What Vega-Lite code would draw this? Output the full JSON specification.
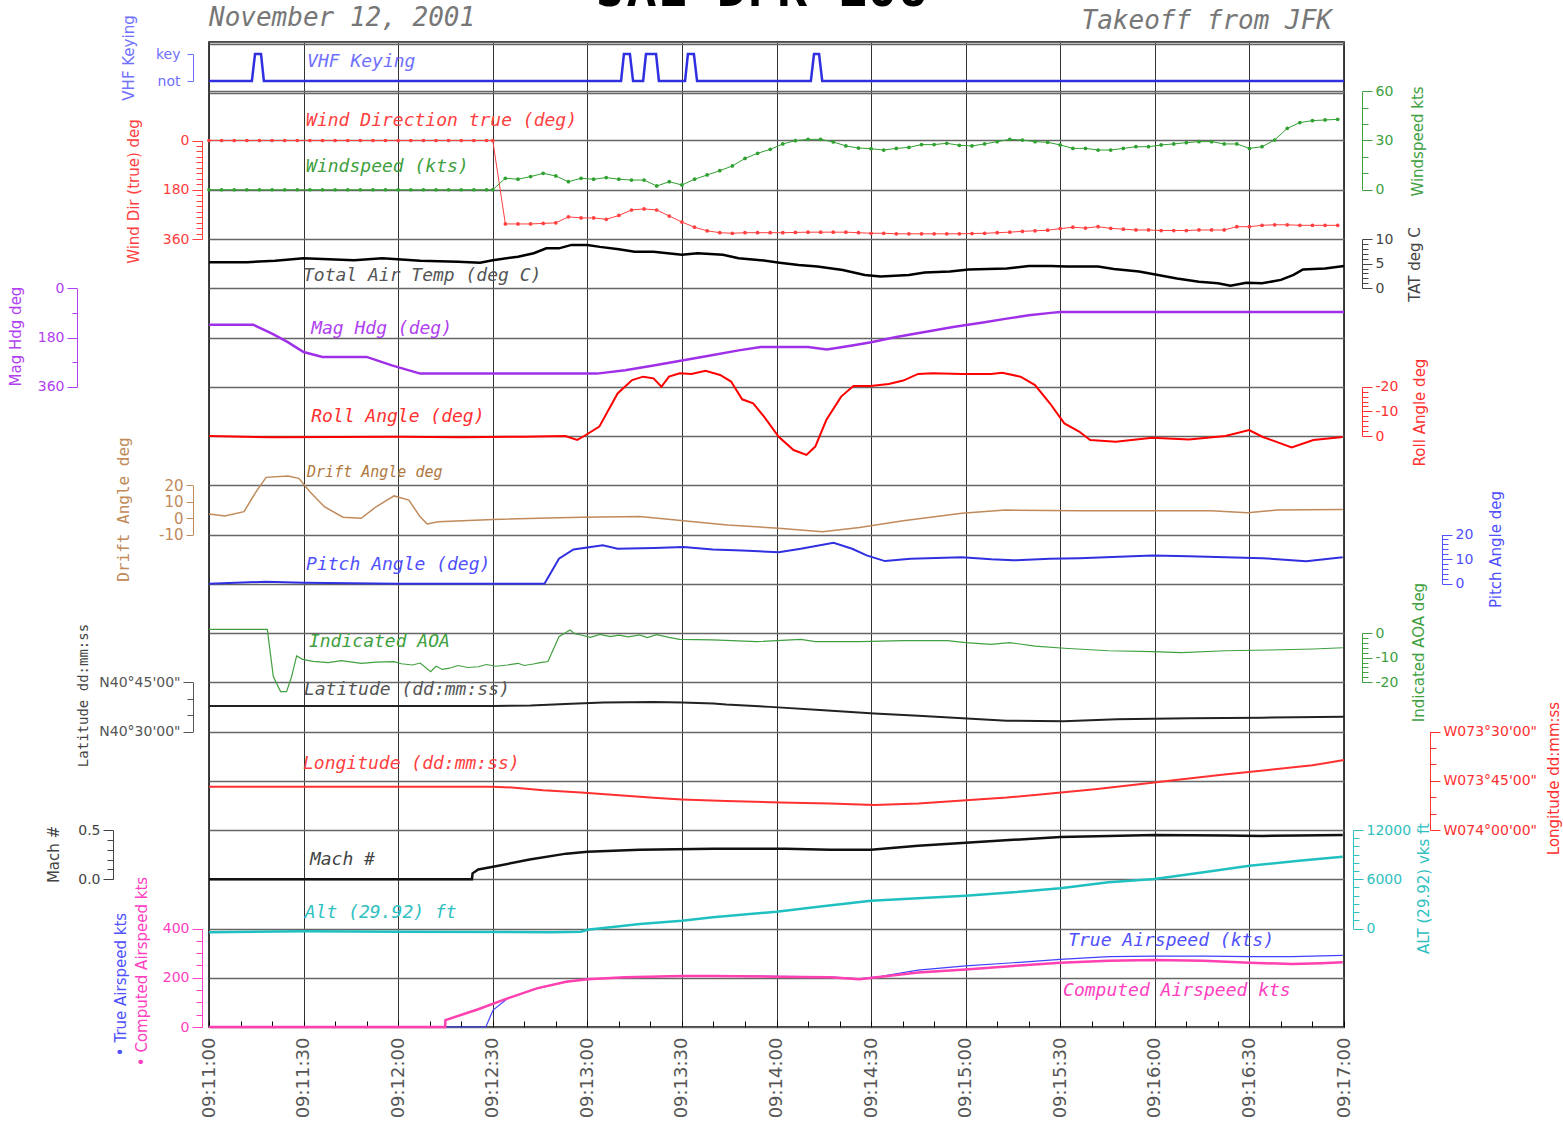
{
"$schema": "https://vega.github.io/schema/vega-lite/v6.json",
"width": 1135, "height": 985,
"autosize": {"type": "none"},
"padding": {"left": 209, "top": 42, "right": 219, "bottom": 100},
"background": "white",
"config": {
  "view": {"stroke": "#000", "strokeWidth": 1.5},
  "axis": {"labelFont": "DejaVu Sans", "titleFont": "DejaVu Sans", "labelFontSize": 14, "titleFontSize": 15, "titleFontWeight": "normal",
    "labelOverlap": false, "labelFlush": false, "labelBound": false, "grid": false, "titleAngle": 270, "titleAlign": "center",
    "titleBaseline": "middle", "labelPadding": 3, "tickWidth": 1, "domainWidth": 1}
},
"datasets": {
  "labels": [
    {"t": 31.1, "r": 19.59, "label": "VHF Keying", "s": "vhf"},
    {"t": 30.8, "r": 18.40, "label": "Wind Direction true (deg)", "s": "wd"},
    {"t": 30.8, "r": 17.46, "label": "Windspeed (kts)", "s": "ws"},
    {"t": 29.8, "r": 15.25, "label": "Total Air Temp (deg C)", "s": "tat"},
    {"t": 32.4, "r": 14.17, "label": "Mag Hdg (deg)", "s": "mag"},
    {"t": 32.4, "r": 12.39, "label": "Roll Angle (deg)", "s": "roll"},
    {"t": 31.1, "r": 11.27, "label": "Drift Angle deg", "s": "drift"},
    {"t": 30.8, "r": 9.38, "label": "Pitch Angle (deg)", "s": "pitch"},
    {"t": 31.7, "r": 7.82, "label": "Indicated AOA", "s": "aoa"},
    {"t": 30.1, "r": 6.84, "label": "Latitude (dd:mm:ss)", "s": "lat"},
    {"t": 29.8, "r": 5.34, "label": "Longitude (dd:mm:ss)", "s": "lon"},
    {"t": 32.0, "r": 3.39, "label": "Mach #", "s": "mach"},
    {"t": 30.4, "r": 2.31, "label": "Alt (29.92) ft", "s": "alt"},
    {"t": 272.5, "r": 1.75, "label": "True Airspeed (kts)", "s": "tas"},
    {"t": 270.9, "r": 0.73, "label": "Computed Airspeed kts", "s": "cas"}
  ],
  "vhf": [{"t":0,"v":0},{"t":13.6,"v":0},{"t":14.6,"v":1},{"t":16.5,"v":1},{"t":17.4,"v":0},{"t":130.7,"v":0},{"t":131.6,"v":1},{"t":133.5,"v":1},{"t":134.5,"v":0},{"t":137.7,"v":0},{"t":138.6,"v":1},{"t":141.8,"v":1},{"t":142.7,"v":0},{"t":151,"v":0},{"t":151.9,"v":1},{"t":153.8,"v":1},{"t":154.8,"v":0},{"t":190.9,"v":0},{"t":191.9,"v":1},{"t":193.5,"v":1},{"t":194.5,"v":0},{"t":360,"v":0}],
  "wind": [
    {"t":0,"wd":0,"ws":0},{"t":4,"wd":0,"ws":0},{"t":8,"wd":0,"ws":0},{"t":12,"wd":0,"ws":0},{"t":16,"wd":0,"ws":0},{"t":20,"wd":0,"ws":0},{"t":24,"wd":0,"ws":0},{"t":28,"wd":0,"ws":0},{"t":32,"wd":0,"ws":0},{"t":36,"wd":0,"ws":0},{"t":40,"wd":0,"ws":0},{"t":44,"wd":0,"ws":0},{"t":48,"wd":0,"ws":0},{"t":52,"wd":0,"ws":0},{"t":56,"wd":0,"ws":0},{"t":60,"wd":0,"ws":0},{"t":64,"wd":0,"ws":0},{"t":68,"wd":0,"ws":0},{"t":72,"wd":0,"ws":0},{"t":76,"wd":0,"ws":0},{"t":80,"wd":0,"ws":0},{"t":84,"wd":0,"ws":0},{"t":88,"wd":0,"ws":0},{"t":90,"wd":0,"ws":0},
    {"t":94,"wd":305,"ws":7.0},{"t":98,"wd":305,"ws":6.4},{"t":102,"wd":305,"ws":8.0},{"t":106,"wd":303,"ws":10.0},{"t":110,"wd":301,"ws":8.4},{"t":114,"wd":279,"ws":4.9},{"t":118,"wd":283,"ws":7.0},{"t":122,"wd":283,"ws":6.4},{"t":126,"wd":288,"ws":7.4},{"t":130,"wd":274,"ws":6.4},{"t":134,"wd":254,"ws":5.9},{"t":138,"wd":250,"ws":5.9},{"t":142,"wd":254,"ws":2.3},{"t":146,"wd":276,"ws":4.9},{"t":150,"wd":298,"ws":2.9},{"t":154,"wd":317,"ws":6.4},{"t":158,"wd":330,"ws":9.0},{"t":162,"wd":337,"ws":11.6},{"t":166,"wd":339,"ws":14.5},{"t":170,"wd":337,"ws":19.1},{"t":174,"wd":337,"ws":22.2},{"t":178,"wd":337,"ws":24.6},
    {"t":182,"wd":337,"ws":27.9},{"t":186,"wd":336,"ws":29.9},{"t":190,"wd":335,"ws":30.7},{"t":194,"wd":335,"ws":30.7},{"t":198,"wd":335,"ws":29.1},{"t":202,"wd":335,"ws":26.7},{"t":206,"wd":337,"ws":25.4},{"t":210,"wd":339,"ws":25.0},{"t":214,"wd":339,"ws":24.2},{"t":218,"wd":341,"ws":25.2},{"t":222,"wd":341,"ws":25.8},{"t":226,"wd":341,"ws":27.5},{"t":230,"wd":341,"ws":27.5},{"t":234,"wd":341,"ws":28.3},{"t":238,"wd":341,"ws":27.1},{"t":242,"wd":340,"ws":26.7},{"t":246,"wd":339,"ws":27.9},{"t":250,"wd":337,"ws":29.3},{"t":254,"wd":335,"ws":30.7},{"t":258,"wd":332,"ws":30.3},{"t":262,"wd":330,"ws":29.3},{"t":266,"wd":328,"ws":28.9},{"t":270,"wd":322,"ws":27.3},{"t":274,"wd":317,"ws":25.2},{"t":278,"wd":320,"ws":25.2},{"t":282,"wd":315,"ws":24.2},{"t":286,"wd":321,"ws":24.2},{"t":290,"wd":324,"ws":25.2},{"t":294,"wd":327,"ws":26.2},{"t":298,"wd":327,"ws":26.2},{"t":302,"wd":329,"ws":27.3},{"t":306,"wd":329,"ws":27.9},{"t":310,"wd":329,"ws":28.7},{"t":314,"wd":327,"ws":29.3},{"t":318,"wd":327,"ws":29.3},{"t":322,"wd":327,"ws":27.9},{"t":326,"wd":315,"ws":27.9},{"t":330,"wd":315,"ws":25.2},{"t":334,"wd":310,"ws":26.2},{"t":338,"wd":308,"ws":30.3},{"t":342,"wd":308,"ws":37.4},{"t":346,"wd":310,"ws":40.9},{"t":350,"wd":310,"ws":42.1},{"t":354,"wd":310,"ws":42.5},{"t":358,"wd":310,"ws":42.9}
  ],
  "tat": [{"t":0,"v":5.3},{"t":12,"v":5.3},{"t":21,"v":5.6},{"t":30,"v":6.1},{"t":46,"v":5.7},{"t":55,"v":6.1},{"t":67,"v":5.6},{"t":79,"v":5.4},{"t":86,"v":5.2},{"t":90,"v":5.7},{"t":98,"v":6.4},{"t":103,"v":7.1},{"t":107,"v":8.1},{"t":111,"v":8.1},{"t":115,"v":8.8},{"t":120,"v":8.8},{"t":124,"v":8.4},{"t":130,"v":7.9},{"t":135,"v":7.4},{"t":141,"v":7.4},{"t":150,"v":6.8},{"t":155,"v":7.1},{"t":163,"v":6.8},{"t":168,"v":6.1},{"t":175,"v":5.7},{"t":181,"v":5.2},{"t":187,"v":4.7},{"t":193,"v":4.4},{"t":201,"v":3.7},{"t":208,"v":2.7},{"t":213,"v":2.4},{"t":222,"v":2.7},{"t":227,"v":3.2},{"t":235,"v":3.4},{"t":241,"v":3.8},{"t":253,"v":4.0},{"t":260,"v":4.5},{"t":267,"v":4.5},{"t":272,"v":4.4},{"t":282,"v":4.4},{"t":287,"v":3.9},{"t":295,"v":3.4},{"t":301,"v":2.7},{"t":307,"v":2.0},{"t":314,"v":1.3},{"t":320,"v":1.0},{"t":324,"v":0.5},{"t":329,"v":1.1},{"t":334,"v":1.0},{"t":340,"v":1.7},{"t":344,"v":2.7},{"t":347,"v":3.8},{"t":354,"v":4.0},{"t":360,"v":4.5}],
  "mag": [{"t":0,"v":133},{"t":14,"v":133},{"t":20,"v":166},{"t":25,"v":197},{"t":30,"v":233},{"t":36,"v":251},{"t":50,"v":251},{"t":58,"v":282},{"t":67,"v":312},{"t":123,"v":312},{"t":132,"v":300},{"t":141,"v":282},{"t":150,"v":264},{"t":159,"v":246},{"t":168,"v":227},{"t":175,"v":215},{"t":182,"v":215},{"t":190,"v":215},{"t":196,"v":224},{"t":204,"v":209},{"t":210,"v":197},{"t":218,"v":178},{"t":227,"v":160},{"t":236,"v":142},{"t":246,"v":124},{"t":253,"v":111},{"t":260,"v":99},{"t":267,"v":90},{"t":270,"v":87},{"t":360,"v":87}],
  "roll": [{"t":0,"v":0},{"t":20,"v":0.5},{"t":40,"v":0.4},{"t":60,"v":0.3},{"t":80,"v":0.5},{"t":100,"v":0.3},{"t":113,"v":0},{"t":116.8,"v":1.6},{"t":119,"v":0},{"t":123.8,"v":-3.8},{"t":129.6,"v":-17.3},{"t":134.2,"v":-22.7},{"t":137.7,"v":-24.1},{"t":141,"v":-23.4},{"t":143.5,"v":-20},{"t":145.9,"v":-24.1},{"t":149.3,"v":-25.5},{"t":153,"v":-25.2},{"t":157.5,"v":-26.5},{"t":162.1,"v":-24.8},{"t":165.6,"v":-22.1},{"t":169.1,"v":-14.9},{"t":172.6,"v":-13.3},{"t":176.1,"v":-7.8},{"t":180.7,"v":0.3},{"t":185.4,"v":5.7},{"t":189.5,"v":7.7},{"t":192.3,"v":4.3},{"t":195.8,"v":-6.5},{"t":200.5,"v":-16},{"t":204.4,"v":-20.3},{"t":209.8,"v":-20.3},{"t":215.6,"v":-21.1},{"t":220.2,"v":-22.5},{"t":224.9,"v":-25.2},{"t":229.5,"v":-25.5},{"t":238.8,"v":-25.2},{"t":248.1,"v":-25.2},{"t":251.6,"v":-25.7},{"t":257.4,"v":-24.1},{"t":262,"v":-20.7},{"t":266.7,"v":-13.3},{"t":271.3,"v":-5.1},{"t":276,"v":-1.8},{"t":279.5,"v":1.6},{"t":287.6,"v":2.3},{"t":299.2,"v":0.7},{"t":310.8,"v":1.4},{"t":322.4,"v":0},{"t":329.9,"v":-2.4},{"t":334.1,"v":0.3},{"t":343.4,"v":4.6},{"t":350.3,"v":1.6},{"t":359.6,"v":0.4}],
  "drift": [{"t":0,"v":2.5},{"t":5,"v":1.3},{"t":11.1,"v":3.9},{"t":14.6,"v":15.1},{"t":18.1,"v":24.8},{"t":25,"v":25.6},{"t":28.5,"v":24.2},{"t":32,"v":16.1},{"t":36.6,"v":6.9},{"t":42.5,"v":0.5},{"t":48.3,"v":-0.1},{"t":53,"v":6.9},{"t":58.7,"v":13.5},{"t":63.4,"v":11},{"t":66.9,"v":0.9},{"t":69.2,"v":-3.6},{"t":72.7,"v":-2.2},{"t":90.1,"v":-0.8},{"t":118,"v":0.5},{"t":136.6,"v":0.9},{"t":150.5,"v":-1.6},{"t":164.4,"v":-4.2},{"t":180.7,"v":-6.2},{"t":194.6,"v":-8.3},{"t":206.3,"v":-5.8},{"t":220.2,"v":-1.6},{"t":238.8,"v":2.9},{"t":252.7,"v":4.9},{"t":276,"v":4.5},{"t":299.2,"v":4.5},{"t":317.8,"v":4.5},{"t":329.4,"v":3.3},{"t":338.7,"v":4.9},{"t":359.6,"v":5.3}],
  "pitch": [{"t":0,"v":0},{"t":18,"v":0.8},{"t":30,"v":0.4},{"t":60,"v":0},{"t":90,"v":0},{"t":106.4,"v":0},{"t":111,"v":10.2},{"t":115.6,"v":13.9},{"t":124.9,"v":15.6},{"t":129.6,"v":14.2},{"t":141.2,"v":14.5},{"t":150.5,"v":14.9},{"t":159.8,"v":13.9},{"t":169.1,"v":13.5},{"t":180.7,"v":12.8},{"t":187.7,"v":14.2},{"t":198.1,"v":16.6},{"t":204,"v":14.2},{"t":208.6,"v":11.5},{"t":214.4,"v":9.2},{"t":222.5,"v":10.2},{"t":238.8,"v":10.8},{"t":248.1,"v":9.9},{"t":255.1,"v":9.5},{"t":266.7,"v":10.2},{"t":276,"v":10.4},{"t":299.2,"v":11.5},{"t":310.8,"v":11.2},{"t":334.1,"v":10.4},{"t":348,"v":9.1},{"t":359.6,"v":10.8}],
  "aoa": [{"t":0,"v":1.5},{"t":18.5,"v":1.5},{"t":20.4,"v":-17.7},{"t":22.7,"v":-23.8},{"t":24.6,"v":-23.8},{"t":26.2,"v":-17.7},{"t":27.8,"v":-9.3},{"t":29.7,"v":-10.7},{"t":33,"v":-11.5},{"t":37.8,"v":-12},{"t":42,"v":-11.2},{"t":48.3,"v":-12.3},{"t":53,"v":-11.8},{"t":58.7,"v":-11.6},{"t":61,"v":-12.5},{"t":64.5,"v":-13},{"t":67,"v":-12.2},{"t":70.3,"v":-15.7},{"t":72,"v":-13.5},{"t":74,"v":-14.8},{"t":76.2,"v":-14.3},{"t":79,"v":-13.2},{"t":82,"v":-14},{"t":85.4,"v":-13.7},{"t":88,"v":-12.8},{"t":91,"v":-13.5},{"t":94.7,"v":-13},{"t":98,"v":-12.3},{"t":100,"v":-13.2},{"t":102.9,"v":-12.6},{"t":105,"v":-12},{"t":107.5,"v":-11.6},{"t":111,"v":-1.5},{"t":114.5,"v":1.2},{"t":116,"v":-0.3},{"t":118,"v":-0.8},{"t":121,"v":-1.8},{"t":124,"v":-0.6},{"t":127.3,"v":-1.5},{"t":130,"v":-0.9},{"t":133,"v":-1.6},{"t":136.6,"v":-0.8},{"t":139,"v":-1.9},{"t":142,"v":-0.7},{"t":145.9,"v":-1.8},{"t":149.3,"v":-2.6},{"t":159.8,"v":-2.8},{"t":173.7,"v":-3.5},{"t":187.7,"v":-2.6},{"t":192.3,"v":-3.5},{"t":206.3,"v":-3.5},{"t":220.2,"v":-3.1},{"t":234.2,"v":-3.1},{"t":240,"v":-3.9},{"t":248.1,"v":-4.6},{"t":253.9,"v":-3.9},{"t":262,"v":-5.3},{"t":271.3,"v":-6.2},{"t":285.3,"v":-7.2},{"t":299.2,"v":-7.6},{"t":308.5,"v":-8},{"t":322.4,"v":-7.2},{"t":336.4,"v":-6.9},{"t":350.3,"v":-6.5},{"t":359.6,"v":-6}],
  "lat": [{"t":0,"v":37.8},{"t":90,"v":37.8},{"t":102,"v":37.9},{"t":113,"v":38.4},{"t":125,"v":38.8},{"t":141,"v":39.0},{"t":150,"v":38.8},{"t":160,"v":38.5},{"t":164,"v":38.2},{"t":178,"v":37.5},{"t":195,"v":36.5},{"t":211,"v":35.5},{"t":225,"v":34.8},{"t":239,"v":34.0},{"t":253,"v":33.3},{"t":271,"v":33.1},{"t":288,"v":33.7},{"t":311,"v":34.0},{"t":334,"v":34.2},{"t":360,"v":34.5}],
  "lon": [{"t":0,"v":46.8},{"t":90,"v":46.8},{"t":97,"v":47.1},{"t":106,"v":47.9},{"t":118,"v":48.6},{"t":130,"v":49.4},{"t":141,"v":50.2},{"t":150,"v":50.7},{"t":164,"v":51.2},{"t":181,"v":51.6},{"t":197,"v":51.9},{"t":211,"v":52.4},{"t":225,"v":51.9},{"t":239,"v":51.0},{"t":253,"v":50.1},{"t":267,"v":48.9},{"t":281,"v":47.6},{"t":295,"v":46.1},{"t":308,"v":44.6},{"t":322,"v":43.1},{"t":336,"v":41.7},{"t":350,"v":40.3},{"t":360,"v":38.7}],
  "mach": [{"t":0,"v":0},{"t":83.4,"v":0},{"t":83.6,"v":0.06},{"t":85.4,"v":0.10},{"t":90.1,"v":0.127},{"t":101.7,"v":0.20},{"t":113.3,"v":0.26},{"t":120,"v":0.28},{"t":136.6,"v":0.30},{"t":159.8,"v":0.31},{"t":183,"v":0.31},{"t":197,"v":0.30},{"t":210,"v":0.30},{"t":224.9,"v":0.34},{"t":240,"v":0.37},{"t":255.1,"v":0.40},{"t":270,"v":0.43},{"t":285.3,"v":0.44},{"t":299.9,"v":0.45},{"t":322.4,"v":0.445},{"t":334.1,"v":0.44},{"t":345.7,"v":0.445},{"t":359.6,"v":0.45}],
  "alt": [{"t":0,"v":-450},{"t":30,"v":-350},{"t":60,"v":-400},{"t":108.7,"v":-450},{"t":118,"v":-390},{"t":120,"v":-146},{"t":127.3,"v":146},{"t":136.6,"v":548},{"t":150,"v":950},{"t":159.8,"v":1364},{"t":180,"v":2046},{"t":194.6,"v":2704},{"t":210,"v":3386},{"t":224.9,"v":3678},{"t":240,"v":3995},{"t":255.1,"v":4409},{"t":270,"v":4896},{"t":285.3,"v":5627},{"t":299.9,"v":6029},{"t":315.5,"v":6845},{"t":330,"v":7649},{"t":345.7,"v":8258},{"t":359.6,"v":8745}],
  "cas": [{"t":0,"v":0},{"t":74.9,"v":0},{"t":75,"v":28},{"t":85.4,"v":72},{"t":94.7,"v":116},{"t":104,"v":157},{"t":113.3,"v":184},{"t":120,"v":194},{"t":131.9,"v":202},{"t":150,"v":207},{"t":159.8,"v":207},{"t":180,"v":204},{"t":197,"v":202},{"t":206.3,"v":194},{"t":213.2,"v":204},{"t":224.9,"v":221},{"t":240,"v":234},{"t":255.1,"v":248},{"t":270,"v":261},{"t":285.3,"v":269},{"t":299.9,"v":272},{"t":315.5,"v":269},{"t":330,"v":261},{"t":343.4,"v":256},{"t":352.7,"v":259},{"t":359.6,"v":263}],
  "tas": [{"t":0,"v":0},{"t":87.8,"v":0},{"t":90.1,"v":69},{"t":94.7,"v":116},{"t":104,"v":157},{"t":113.3,"v":184},{"t":120,"v":194},{"t":131.9,"v":202},{"t":150,"v":207},{"t":159.8,"v":207},{"t":180,"v":206},{"t":197,"v":204},{"t":206.3,"v":196},{"t":213.2,"v":206},{"t":224.9,"v":231},{"t":240,"v":248},{"t":255.1,"v":261},{"t":270,"v":275},{"t":285.3,"v":286},{"t":299.9,"v":288},{"t":315.5,"v":288},{"t":330,"v":286},{"t":343.4,"v":286},{"t":359.6,"v":291}]
},
"resolve": {"scale": {"y": "independent"}, "axis": {"y": "independent"}},
"layer": [
  {
    "data": {"name": "labels"},
    "mark": {"type": "text", "align": "left", "baseline": "middle", "font": "DejaVu Sans Mono", "fontStyle": "italic"},
    "encoding": {
      "x": {"field": "t", "type": "quantitative", "scale": {"domain": [0, 360], "nice": false, "zero": false},
        "axis": {"values": [0,10,20,30,40,50,60,70,80,90,100,110,120,130,140,150,160,170,180,190,200,210,220,230,240,250,260,270,280,290,300,310,320,330,340,350,360],
          "tickCount": 60,
          "grid": true, "gridColor": "#333", "gridWidth": 1,
          "gridOpacity": {"condition": {"test": "datum.value % 30 == 0", "value": 1}, "value": 0},
          "labelExpr": "datum.value % 30 == 0 ? timeFormat(datetime(2001, 10, 12, 9, 11, datum.value), '%H:%M:%S') : ''",
          "labelAngle": 270, "labelFontSize": 18, "labelColor": "#555", "labelPadding": 16, "tickSize": -6, "tickColor": "#000",
          "domain": false, "title": null}},
      "y": {"field": "r", "type": "quantitative", "scale": {"domain": [0, 20], "nice": false, "zero": false},
        "axis": {"orient": "left", "values": [0,1,2,3,4,5,6,7,8,9,10,11,12,13,14,15,16,17,18,18.96,19,19.96,20], "tickCount": 40, "grid": true, "gridColor": "#666", "gridWidth": 1.6,
          "labels": false, "ticks": false, "domain": false, "title": null}},
      "text": {"field": "label"},
      "size": {"condition": {"test": "datum.s == 'drift'", "value": 15}, "value": 18},
      "color": {"field": "s", "type": "nominal", "legend": null,
        "scale": {"domain": ["vhf","wd","ws","tat","mag","roll","drift","pitch","aoa","lat","lon","mach","alt","tas","cas"],
          "range": ["#7070ff","#ff4040","#40a040","#555555","#b040f0","#ff3030","#b07840","#5050ff","#40a040","#555555","#ff4040","#444444","#30c0c0","#5050ff","#ff40c0"]}}
    }
  },
  {
    "data": {"values": [{"t": 0, "r": 20.49, "label": "November 12, 2001"}]},
    "mark": {"type": "text", "align": "left", "baseline": "middle", "font": "DejaVu Sans Mono", "fontStyle": "italic", "fontSize": 26, "color": "#777"},
    "encoding": {
      "x": {"field": "t", "type": "quantitative", "scale": {"domain": [0, 360], "nice": false, "zero": false}},
      "y": {"field": "r", "type": "quantitative", "scale": {"domain": [0, 20], "nice": false, "zero": false}, "axis": null},
      "text": {"field": "label"}
    }
  },
  {
    "data": {"values": [{"t": 356.2, "r": 20.43, "label": "Takeoff from JFK"}]},
    "mark": {"type": "text", "align": "right", "baseline": "middle", "font": "DejaVu Sans Mono", "fontStyle": "italic", "fontSize": 26, "color": "#777"},
    "encoding": {
      "x": {"field": "t", "type": "quantitative", "scale": {"domain": [0, 360], "nice": false, "zero": false}},
      "y": {"field": "r", "type": "quantitative", "scale": {"domain": [0, 20], "nice": false, "zero": false}, "axis": null},
      "text": {"field": "label"}
    }
  },
  {
    "data": {"values": [{"t": 175.4, "r": 20.73, "label": "JAL DFR 106"}]},
    "mark": {"type": "text", "align": "center", "baseline": "alphabetic", "font": "DejaVu Sans Mono", "fontWeight": "bold", "fontSize": 50, "color": "#000"},
    "encoding": {
      "x": {"field": "t", "type": "quantitative", "scale": {"domain": [0, 360], "nice": false, "zero": false}},
      "y": {"field": "r", "type": "quantitative", "scale": {"domain": [0, 20], "nice": false, "zero": false}, "axis": null},
      "text": {"field": "label"}
    }
  },
  {
    "data": {"name": "vhf"},
    "mark": {"type": "line", "color": "#3030e0", "strokeWidth": 2.5},
    "encoding": {
      "x": {"field": "t", "type": "quantitative", "scale": {"domain": [0, 360], "nice": false, "zero": false}},
      "y": {"field": "v", "type": "quantitative", "scale": {"domain": [-35.05, 1.445], "nice": false, "zero": false},
        "axis": {"orient": "left", "offset": 16, "values": [0, 1], "labelExpr": "datum.value == 1 ? 'key' : 'not'", "tickSize": 6, "labelPadding": 7,
          "domainDash": [0, 946, 27, 3000], "title": "VHF Keying", "titleX": -65, "titleY": 15.5,
          "labelColor": "#7070ff", "tickColor": "#7070ff", "domainColor": "#7070ff", "titleColor": "#7070ff"}}
    }
  },
  {
    "data": {"name": "wind"},
    "mark": {"type": "line", "color": "#ff4040", "strokeWidth": 1, "point": {"filled": true, "size": 14, "color": "#ff4040"}},
    "encoding": {
      "x": {"field": "t", "type": "quantitative", "scale": {"domain": [0, 360], "nice": false, "zero": false}},
      "y": {"field": "wd", "type": "quantitative", "scale": {"domain": [3240, -360], "nice": false, "zero": false},
        "axis": {"orient": "left", "offset": 7, "values": [0,20,40,60,80,100,120,140,160,180,200,220,240,260,280,300,320,340,360], "tickCount": 40,
          "labelExpr": "datum.value % 180 == 0 ? datum.label : ''",
          "tickSize": {"condition": {"test": "datum.value % 180 == 0", "value": 10}, "value": 6},
          "domainDash": [0, 788, 98.5, 3000], "title": "Wind Dir (true) deg", "titleX": -69, "titleY": 149,
          "labelColor": "#ff4040", "tickColor": "#ff4040", "domainColor": "#ff4040", "titleColor": "#ff4040"}}
    }
  },
  {
    "data": {"name": "wind"},
    "mark": {"type": "line", "color": "#30a030", "strokeWidth": 1, "point": {"filled": true, "size": 14, "color": "#30a030"}},
    "encoding": {
      "x": {"field": "t", "type": "quantitative", "scale": {"domain": [0, 360], "nice": false, "zero": false}},
      "y": {"field": "ws", "type": "quantitative", "scale": {"domain": [-510, 90], "nice": false, "zero": false},
        "axis": {"orient": "right", "offset": 18, "values": [0,10,20,30,40,50,60],
          "labelExpr": "datum.value % 30 == 0 ? datum.label : ''",
          "tickSize": {"condition": {"test": "datum.value % 30 == 0", "value": 10}, "value": 6},
          "domainDash": [0, 837.25, 98.5, 3000], "title": "Windspeed kts", "titleX": 55, "titleY": 99,
          "labelColor": "#40a040", "tickColor": "#40a040", "domainColor": "#40a040", "titleColor": "#40a040"}}
    }
  },
  {
    "data": {"name": "tat"},
    "mark": {"type": "line", "color": "#000", "strokeWidth": 2.5},
    "encoding": {
      "x": {"field": "t", "type": "quantitative", "scale": {"domain": [0, 360], "nice": false, "zero": false}},
      "y": {"field": "v", "type": "quantitative", "scale": {"domain": [-150, 50], "nice": false, "zero": false},
        "axis": {"orient": "right", "offset": 18, "values": [0,1,2,3,4,5,6,7,8,9,10],
          "labelExpr": "datum.value % 5 == 0 ? datum.label : ''",
          "tickSize": {"condition": {"test": "datum.value % 5 == 0", "value": 10}, "value": 6},
          "domainDash": [0, 738.75, 49.25, 3000], "title": "TAT deg C", "titleX": 52, "titleY": 222,
          "labelColor": "#444", "tickColor": "#444", "domainColor": "#444", "titleColor": "#444"}}
    }
  },
  {
    "data": {"name": "mag"},
    "mark": {"type": "line", "color": "#a030e8", "strokeWidth": 2.5},
    "encoding": {
      "x": {"field": "t", "type": "quantitative", "scale": {"domain": [0, 360], "nice": false, "zero": false}},
      "y": {"field": "v", "type": "quantitative", "scale": {"domain": [2700, -900], "nice": false, "zero": false},
        "axis": {"orient": "left", "offset": 132, "values": [0, 90, 180, 270, 360],
          "labelExpr": "datum.value % 180 == 0 ? datum.label : ''",
          "tickSize": {"condition": {"test": "datum.value % 180 == 0", "value": 10}, "value": 5},
          "domainDash": [0, 640.25, 98.5, 3000], "title": "Mag Hdg deg", "titleX": -62, "titleY": 294,
          "labelColor": "#b040f0", "tickColor": "#b040f0", "domainColor": "#b040f0", "titleColor": "#b040f0"}}
    }
  },
  {
    "data": {"name": "roll"},
    "mark": {"type": "line", "color": "#ff0000", "strokeWidth": 2},
    "encoding": {
      "x": {"field": "t", "type": "quantitative", "scale": {"domain": [0, 360], "nice": false, "zero": false}},
      "y": {"field": "v", "type": "quantitative", "scale": {"domain": [240, -160], "nice": false, "zero": false},
        "axis": {"orient": "right", "offset": 18, "values": [-20,-18,-16,-14,-12,-10,-8,-6,-4,-2,0],
          "labelExpr": "datum.value % 10 == 0 ? '' + datum.value : ''",
          "tickSize": {"condition": {"test": "datum.value % 10 == 0", "value": 10}, "value": 6},
          "domainDash": [0, 591, 49.25, 3000], "title": "Roll Angle deg", "titleX": 57, "titleY": 370,
          "labelColor": "#ff3030", "tickColor": "#ff3030", "domainColor": "#ff3030", "titleColor": "#ff3030"}}
    }
  },
  {
    "data": {"name": "drift"},
    "mark": {"type": "line", "color": "#c08a5a", "strokeWidth": 1.5},
    "encoding": {
      "x": {"field": "t", "type": "quantitative", "scale": {"domain": [0, 360], "nice": false, "zero": false}},
      "y": {"field": "v", "type": "quantitative", "scale": {"domain": [-310, 290], "nice": false, "zero": false},
        "axis": {"orient": "left", "offset": 16, "values": [-10, 0, 10, 20], "labelExpr": "'' + datum.value", "tickSize": 7, "labelFontSize": 15,
          "domainDash": [0, 492.5, 49.25, 3000], "title": "Drift Angle deg", "titleX": -70, "titleY": 467,
          "titleFont": "DejaVu Sans Mono", "titleFontSize": 16,
          "labelColor": "#c08a5a", "tickColor": "#c08a5a", "domainColor": "#c08a5a", "titleColor": "#c08a5a"}}
    }
  },
  {
    "data": {"name": "pitch"},
    "mark": {"type": "line", "color": "#3030e0", "strokeWidth": 2},
    "encoding": {
      "x": {"field": "t", "type": "quantitative", "scale": {"domain": [0, 360], "nice": false, "zero": false}},
      "y": {"field": "v", "type": "quantitative", "scale": {"domain": [-180, 220], "nice": false, "zero": false},
        "axis": {"orient": "right", "offset": 98, "values": [0,2,4,6,8,10,12,14,16,18,20],
          "labelExpr": "datum.value % 10 == 0 ? datum.label : ''",
          "tickSize": {"condition": {"test": "datum.value % 10 == 0", "value": 10}, "value": 6},
          "domainDash": [0, 443.25, 49.25, 3000], "title": "Pitch Angle deg", "titleX": 53, "titleY": 507,
          "labelColor": "#5050ff", "tickColor": "#5050ff", "domainColor": "#5050ff", "titleColor": "#5050ff"}}
    }
  },
  {
    "data": {"name": "aoa"},
    "mark": {"type": "line", "color": "#40a040", "strokeWidth": 1.2},
    "encoding": {
      "x": {"field": "t", "type": "quantitative", "scale": {"domain": [0, 360], "nice": false, "zero": false}},
      "y": {"field": "v", "type": "quantitative", "scale": {"domain": [-160, 240], "nice": false, "zero": false},
        "axis": {"orient": "right", "offset": 18, "values": [-20,-18,-16,-14,-12,-10,-8,-6,-4,-2,0],
          "labelExpr": "datum.value % 10 == 0 ? '' + datum.value : ''",
          "tickSize": {"condition": {"test": "datum.value % 10 == 0", "value": 10}, "value": 6},
          "domainDash": [0, 344.75, 49.25, 3000], "title": "Indicated AOA deg", "titleX": 56, "titleY": 610,
          "labelColor": "#40a040", "tickColor": "#40a040", "domainColor": "#40a040", "titleColor": "#40a040"}}
    }
  },
  {
    "data": {"name": "lat"},
    "mark": {"type": "line", "color": "#222", "strokeWidth": 2},
    "encoding": {
      "x": {"field": "t", "type": "quantitative", "scale": {"domain": [0, 360], "nice": false, "zero": false}},
      "y": {"field": "v", "type": "quantitative", "scale": {"domain": [-60, 240], "nice": false, "zero": false},
        "axis": {"orient": "left", "offset": 16, "values": [30, 35, 40, 45],
          "labelExpr": "datum.value % 15 == 0 ? 'N40°' + datum.value + '\\'00\"' : ''",
          "tickSize": {"condition": {"test": "datum.value % 15 == 0", "value": 10}, "value": 6},
          "domainDash": [0, 295.5, 49.25, 3000], "title": "Latitude dd:mm:ss", "titleX": -110, "titleY": 653,
          "titleFont": "DejaVu Sans Mono", "titleFontSize": 14,
          "labelColor": "#555", "tickColor": "#555", "domainColor": "#555", "titleColor": "#444"}}
    }
  },
  {
    "data": {"name": "lon"},
    "mark": {"type": "line", "color": "#ff3030", "strokeWidth": 2},
    "encoding": {
      "x": {"field": "t", "type": "quantitative", "scale": {"domain": [0, 360], "nice": false, "zero": false}},
      "y": {"field": "v", "type": "quantitative", "scale": {"domain": [120, -180], "nice": false, "zero": false},
        "axis": {"orient": "right", "offset": 86, "values": [30, 35, 40, 45, 50, 55, 60],
          "labelExpr": "datum.value == 60 ? 'W074°00\\'00\"' : (datum.value % 15 == 0 ? 'W073°' + datum.value + '\\'00\"' : '')",
          "tickSize": {"condition": {"test": "datum.value % 15 == 0", "value": 10}, "value": 6},
          "domainDash": [0, 197, 98.5, 3000], "title": "Longitude dd:mm:ss", "titleX": 123, "titleY": 736,
          "labelColor": "#ff3030", "tickColor": "#ff3030", "domainColor": "#ff3030", "titleColor": "#ff3030"}}
    }
  },
  {
    "data": {"name": "mach"},
    "mark": {"type": "line", "color": "#111", "strokeWidth": 2.5},
    "encoding": {
      "x": {"field": "t", "type": "quantitative", "scale": {"domain": [0, 360], "nice": false, "zero": false}},
      "y": {"field": "v", "type": "quantitative", "scale": {"domain": [-1.5, 8.5], "nice": false, "zero": false},
        "axis": {"orient": "left", "offset": 96, "values": [0, 0.1, 0.2, 0.3, 0.4, 0.5],
          "labelExpr": "datum.value == 0 ? '0.0' : (datum.value == 0.5 ? '0.5' : '')",
          "tickSize": {"condition": {"test": "datum.value == 0 || datum.value == 0.5", "value": 10}, "value": 6},
          "domainDash": [0, 147.75, 49.25, 3000], "title": "Mach #", "titleX": -60, "titleY": 812,
          "labelColor": "#444", "tickColor": "#444", "domainColor": "#444", "titleColor": "#444"}}
    }
  },
  {
    "data": {"name": "alt"},
    "mark": {"type": "line", "color": "#20c0c0", "strokeWidth": 2.5},
    "encoding": {
      "x": {"field": "t", "type": "quantitative", "scale": {"domain": [0, 360], "nice": false, "zero": false}},
      "y": {"field": "v", "type": "quantitative", "scale": {"domain": [-12000, 108000], "nice": false, "zero": false},
        "axis": {"orient": "right", "offset": 9, "values": [0,1000,2000,3000,4000,5000,6000,7000,8000,9000,10000,11000,12000],
          "labelExpr": "datum.value % 6000 == 0 ? '' + datum.value : ''",
          "tickSize": {"condition": {"test": "datum.value % 6000 == 0", "value": 10}, "value": 6},
          "domainDash": [0, 98.5, 98.5, 3000], "title": "ALT (29.92) vks ft", "titleX": 70, "titleY": 846,
          "labelColor": "#30c0c0", "tickColor": "#30c0c0", "domainColor": "#30c0c0", "titleColor": "#30c0c0"}}
    }
  },
  {
    "data": {"name": "tas"},
    "mark": {"type": "line", "color": "#4040ff", "strokeWidth": 1.2},
    "encoding": {
      "x": {"field": "t", "type": "quantitative", "scale": {"domain": [0, 360], "nice": false, "zero": false}},
      "y": {"field": "v", "type": "quantitative", "scale": {"domain": [0, 4000], "nice": false, "zero": false},
        "axis": {"orient": "left", "offset": 7, "labels": false, "ticks": false, "domain": false,
          "title": "• True Airspeed kts", "titleX": -82, "titleY": 942, "titleColor": "#5050ff"}}
    }
  },
  {
    "data": {"name": "cas"},
    "mark": {"type": "line", "color": "#ff40b0", "strokeWidth": 2.5},
    "encoding": {
      "x": {"field": "t", "type": "quantitative", "scale": {"domain": [0, 360], "nice": false, "zero": false}},
      "y": {"field": "v", "type": "quantitative", "scale": {"domain": [0, 4000], "nice": false, "zero": false},
        "axis": {"orient": "left", "offset": 7, "values": [0,50,100,150,200,250,300,350,400],
          "labelExpr": "datum.value % 200 == 0 ? datum.label : ''",
          "tickSize": {"condition": {"test": "datum.value % 200 == 0", "value": 10}, "value": 6},
          "domainDash": [98.5, 3000], "title": "• Computed Airspeed kts", "titleX": -61, "titleY": 929,
          "labelColor": "#ff40c0", "tickColor": "#ff40c0", "domainColor": "#ff40c0", "titleColor": "#ff40c0"}}
    }
  }
]
}
